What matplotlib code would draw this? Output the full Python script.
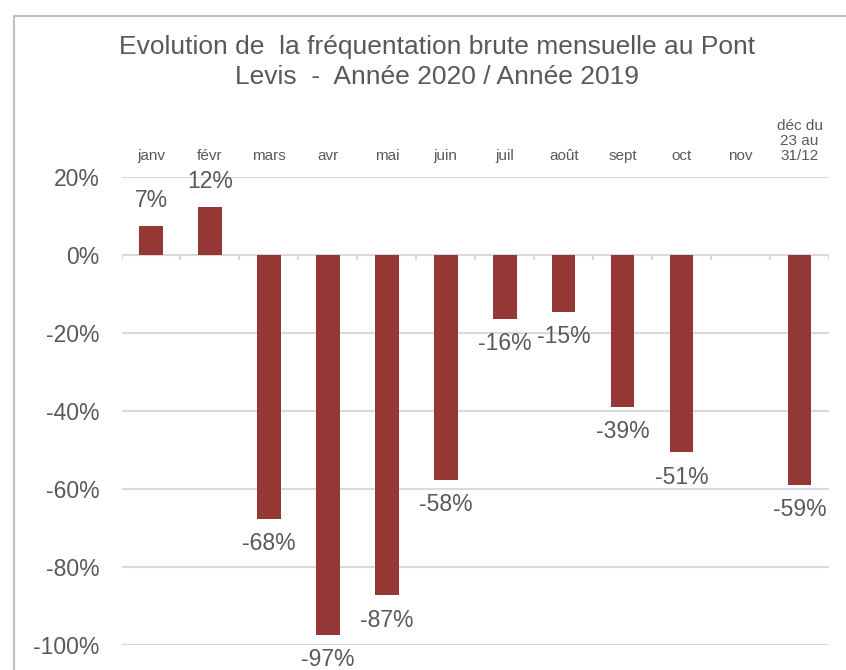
import matplotlib
matplotlib.use("Agg")
import matplotlib.pyplot as plt
from matplotlib.lines import Line2D
import numpy as np

plt.rcParams['font.family'] = ['Liberation Sans', 'DejaVu Sans']

# data
categories = ['janv', 'févr', 'mars', 'avr', 'mai', 'juin', 'juil', 'août',
              'sept', 'oct', 'nov', 'déc du\n23 au\n31/12']
values = [7.4, 12.3, -67.6, -97.4, -87.3, -57.7, -16.4, -14.6,
          -39.0, -50.6, np.nan, -59.0]
yticks = [-100, -80, -60, -40, -20, 0, 20]

bar_color = '#953735'
text_color = '#595959'
grid_color = '#d9d9d9'

W, H = 846, 670
fig = plt.figure(figsize=(W / 100, H / 100), dpi=100)
ax = fig.add_axes([121.5 / W, 1 - 645 / H, (829 - 121.5) / W, (645 - 177) / H])

x = np.arange(len(categories))
ax.bar(x, values, width=0.4, color=bar_color, zorder=3)

ax.set_xlim(-0.5, len(categories) - 0.5)
ax.set_ylim(-100, 20)
ax.set_yticks(yticks)
ax.set_yticklabels([f'{t}%' for t in yticks])
ax.grid(axis='y', color=grid_color, linewidth=1.5, zorder=0)
ax.set_axisbelow(True)
ax.tick_params(axis='y', length=0, pad=16, labelsize=16.5, labelcolor=text_color)

ax.xaxis.tick_top()
ax.set_xticks(x)
ax.set_xticklabels(categories, linespacing=1.1)
ax.tick_params(axis='x', length=0, pad=10, labelsize=11, labelcolor=text_color)

for s in ax.spines.values():
    s.set_visible(False)

# small ticks below the zero line at category boundaries
ax.vlines(np.arange(len(categories) + 1) - 0.5, -1.2, 0, color=grid_color,
          linewidth=1.5, zorder=2)

# value labels
for xi, v in zip(x, values):
    if np.isnan(v):
        continue
    if v >= 0:
        ax.annotate(f'{v:.0f}%', (xi, v), xytext=(0, 10), textcoords='offset points',
                    ha='center', va='bottom', fontsize=16.5, color=text_color)
    else:
        ax.annotate(f'{v:.0f}%', (xi, v), xytext=(0, -9.5), textcoords='offset points',
                    ha='center', va='top', fontsize=16.5, color=text_color)

fig.text(437 / W, 1 - 62 / H,
         'Evolution de  la fréquentation brute mensuelle au Pont\nLevis  -  Année 2020 / Année 2019',
         ha='center', va='center', fontsize=19, color=text_color, linespacing=1.3)

# chart border (top and left visible)
bx, by = 14 / W, 1 - 16 / H
fig.add_artist(Line2D([bx, bx], [0, by], color='#bfbfbf', linewidth=1.5))
fig.add_artist(Line2D([bx, 1], [by, by], color='#bfbfbf', linewidth=1.5))

fig.savefig('out.png', dpi=100)
